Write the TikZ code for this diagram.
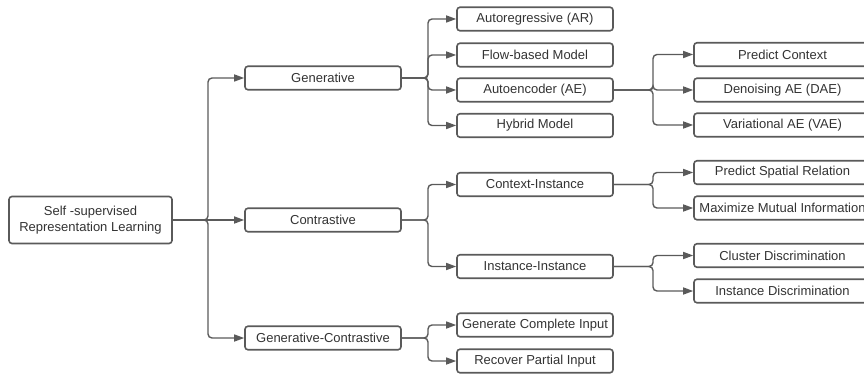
\documentclass[tikz,border=0pt]{standalone}
\usepackage{fontspec}
\setmainfont{Liberation Sans}
\usetikzlibrary{arrows.meta}
\definecolor{linecol}{HTML}{5A5A5A}
\definecolor{textcol}{HTML}{333333}
\tikzset{
  box/.style={draw=linecol, line width=1.6pt, rounded corners=3pt, fill=white,
    text=textcol, inner sep=0pt, align=center, minimum height=23.5pt,
    font=\fontsize{13}{16}\selectfont},
  lvlone/.style={box, minimum width=156pt},
  lvltwo/.style={box, minimum width=156pt},
  lvlthree/.style={box, minimum width=177pt},
  conn/.style={draw=linecol, line width=1.4pt, rounded corners=4pt,
    -{Triangle[length=10pt,width=7pt]}},
}
\begin{document}
\begin{tikzpicture}[x=1pt,y=-1pt]
\useasboundingbox (0,0) rectangle (864,374);
\clip (0,0) rectangle (864,374);

% bus positions
\coordinate (trunk) at (208,0);
\coordinate (busa) at (428,0);
\coordinate (busb) at (653,0);

% root
\node[box, minimum width=163pt, minimum height=47pt] (root) at (90.5,220)
  {Self -supervised\\Representation Learning};

% first level
\node[lvlone] (gen) at (323,78)  {Generative};
\node[lvlone] (con) at (323,220) {Contrastive};
\node[lvlone] (gc)  at (323,338) {Generative-Contrastive};

% second level
\node[lvltwo] (ar)   at (535,19)    {Autoregressive (AR)};
\node[lvltwo] (flow) at (535,55)    {Flow-based Model};
\node[lvltwo] (ae)   at (535,90)    {Autoencoder (AE)};
\node[lvltwo] (hyb)  at (535,125.5) {Hybrid Model};
\node[lvltwo] (ci)   at (535,184.5) {Context-Instance};
\node[lvltwo] (ii)   at (535,266.5) {Instance-Instance};
\node[lvltwo] (gci)  at (535,325)   {Generate Complete Input};
\node[lvltwo] (rpi)  at (535,361)   {Recover Partial Input};

% third level
\node[lvlthree] (pc)    at (782.5,54.5)  {Predict Context};
\node[lvlthree] (dae)   at (782.5,90)    {Denoising AE (DAE)};
\node[lvlthree] (vae)   at (782.5,125)   {Variational AE (VAE)};
\node[lvlthree] (psr)   at (782.5,172.5) {Predict Spatial Relation};
\node[lvlthree] (mmi)   at (782.5,208)   {Maximize Mutual Information};
\node[lvlthree] (cd)    at (782.5,255.5) {Cluster Discrimination};
\node[lvlthree] (idisc) at (782.5,291)   {Instance Discrimination};

% root to first level
\draw[conn] (root.east) -- (root.east -| trunk) |- (gen.west);
\draw[conn] (root.east) -- (con.west);
\draw[conn] (root.east) -- (root.east -| trunk) |- (gc.west);

% generative branch
\foreach \c in {ar,flow,ae,hyb}
  \draw[conn] (gen.east) -- (gen.east -| busa) |- (\c.west);
\foreach \c in {pc,dae,vae}
  \draw[conn] (ae.east) -- (ae.east -| busb) |- (\c.west);

% contrastive branch
\foreach \c in {ci,ii}
  \draw[conn] (con.east) -- (con.east -| busa) |- (\c.west);
\foreach \c in {psr,mmi}
  \draw[conn] (ci.east) -- (ci.east -| busb) |- (\c.west);
\foreach \c in {cd,idisc}
  \draw[conn] (ii.east) -- (ii.east -| busb) |- (\c.west);

% generative-contrastive branch
\foreach \c in {gci,rpi}
  \draw[conn] (gc.east) -- (gc.east -| busa) |- (\c.west);
\end{tikzpicture}
\end{document}
